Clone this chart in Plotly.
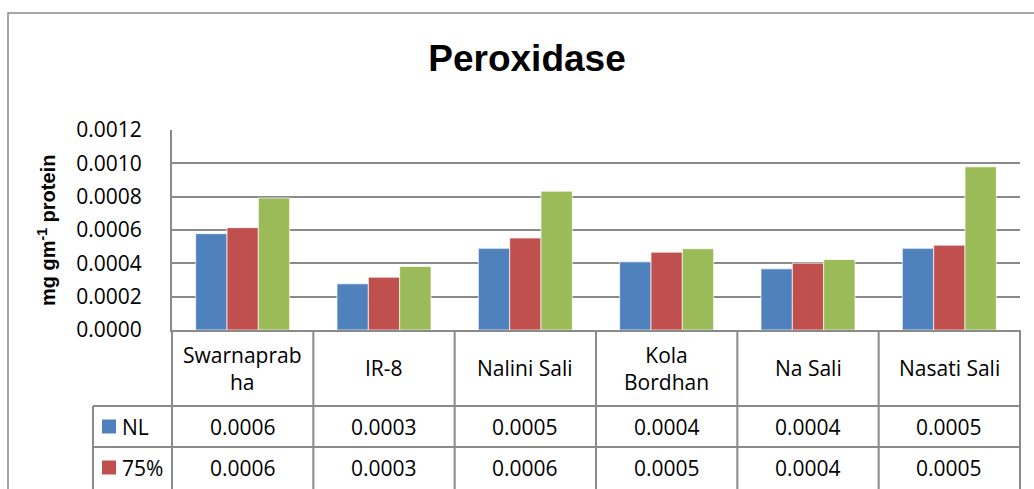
import plotly.graph_objects as go

# ---------------- data ----------------
categories = ["Swarnaprabha", "IR-8", "Nalini Sali", "Kola Bordhan", "Na Sali", "Nasati Sali"]
category_labels = ["Swarnaprab<br>ha", "IR-8", "Nalini Sali", "Kola<br>Bordhan", "Na Sali", "Nasati Sali"]
series_names = ["NL", "75%", "50%"]
nl_values = [0.000578, 0.000277, 0.000490, 0.000409, 0.000367, 0.000490]
p75_values = [0.000614, 0.000317, 0.000552, 0.000467, 0.000401, 0.000509]
p50_values = [0.000792, 0.000381, 0.000833, 0.000488, 0.000423, 0.000979]
series_values = [nl_values, p75_values, p50_values]
series_colors = ["#4F81BD", "#C0504D", "#9BBB59"]
y_ticks = [0.0, 0.0002, 0.0004, 0.0006, 0.0008, 0.0010, 0.0012]
visible_table_rows = 2  # the reference image is cropped below the second row

# ---------------- layout geometry ----------------
W, H = 1034, 489
ML, MR, MT, MB = 172, 14, 130, 159
PW = W - ML - MR
PH = H - MT - MB


def px(x):
    return (x - ML) / PW


def py(y):
    return (H - MB - y) / PH


GRID = "#8a8a8a"
TXT_FONT = dict(family="Open Sans, Noto Sans, sans-serif", size=21, color="black")

fig = go.Figure()
for name, vals, col in zip(series_names, series_values, series_colors):
    fig.add_trace(go.Bar(
        x=categories, y=vals, name=name,
        marker=dict(color=col, line=dict(color="rgba(255,255,255,0.7)", width=1)),
    ))

shapes = []
# outer chart border
shapes.append(dict(type="rect", xref="paper", yref="paper",
                   x0=px(8), x1=px(1045), y0=py(13), y1=py(505),
                   line=dict(color=GRID, width=1.5), layer="below"))
# table vertical lines (category boundaries)
n = len(categories)
for k in range(n + 1):
    shapes.append(dict(type="line", xref="x domain", yref="paper",
                       x0=k / n, x1=k / n, y0=0, y1=py(500),
                       line=dict(color=GRID, width=2)))
# legend column left line
shapes.append(dict(type="line", xref="paper", yref="paper",
                   x0=px(93), x1=px(93), y0=py(406), y1=py(500),
                   line=dict(color=GRID, width=2)))
# row lines
row_top = 406
row_h = 41
for i in range(visible_table_rows):
    yy = py(row_top + i * row_h)
    shapes.append(dict(type="line", xref="paper", yref="paper",
                       x0=px(93), x1=1, y0=yy, y1=yy,
                       line=dict(color=GRID, width=2)))

annotations = []
# header row category labels
for cat, lab in zip(categories, category_labels):
    annotations.append(dict(xref="x", yref="paper", x=cat, y=py(368),
                            text=lab, showarrow=False, xanchor="center",
                            yanchor="middle", font=TXT_FONT))
# value rows + legend keys
for i, (name, vals, col) in enumerate(zip(series_names[:visible_table_rows],
                                          series_values[:visible_table_rows],
                                          series_colors[:visible_table_rows])):
    yc = row_top + i * row_h + row_h / 2
    for cat, v in zip(categories, vals):
        annotations.append(dict(xref="x", yref="paper", x=cat, y=py(yc),
                                text=f"{v:.4f}", showarrow=False,
                                xanchor="center", yanchor="middle", font=TXT_FONT))
    shapes.append(dict(type="rect", xref="paper", yref="paper",
                       x0=px(102), x1=px(116), y0=py(yc + 7), y1=py(yc - 7),
                       fillcolor=col, line=dict(width=0)))
    annotations.append(dict(xref="paper", yref="paper", x=px(120), y=py(yc),
                            text=name, showarrow=False, xanchor="left",
                            yanchor="middle", font=TXT_FONT))
# y axis title
annotations.append(dict(xref="paper", yref="paper", x=px(46), y=py(231),
                        text="mg gm<sup>-1</sup> protein", textangle=-90,
                        showarrow=False, xanchor="center", yanchor="middle",
                        font=dict(family="Liberation Sans, Arial, sans-serif",
                                  size=20, color="black", weight="bold")))

fig.update_layout(
    width=W, height=H,
    margin=dict(l=ML, r=MR, t=MT, b=MB, pad=0),
    paper_bgcolor="white", plot_bgcolor="white",
    title=dict(text="<b>Peroxidase</b>", x=527 / W, xanchor="center",
               y=1 - 58 / H, yanchor="middle", yref="container",
               font=dict(family="Liberation Sans, Arial, sans-serif", size=37, color="black")),
    barmode="group", bargap=0.335, bargroupgap=0,
    showlegend=False,
    shapes=shapes, annotations=annotations,
    xaxis=dict(showticklabels=False, ticks="", showgrid=False,
               showline=True, linecolor=GRID, linewidth=2, zeroline=False),
    yaxis=dict(range=[0, 0.0012], tickvals=y_ticks,
               ticktext=[f"{t:.4f}" for t in y_ticks],
               showgrid=True, gridcolor=GRID, gridwidth=2,
               showline=True, linecolor=GRID, linewidth=2,
               zeroline=False, ticks="", ticklabelstandoff=24,
               tickfont=TXT_FONT),
)

fig.write_html("out.html", config={"displayModeBar": False},
               post_script="document.body.style.margin='0';document.body.style.overflow='hidden';")
